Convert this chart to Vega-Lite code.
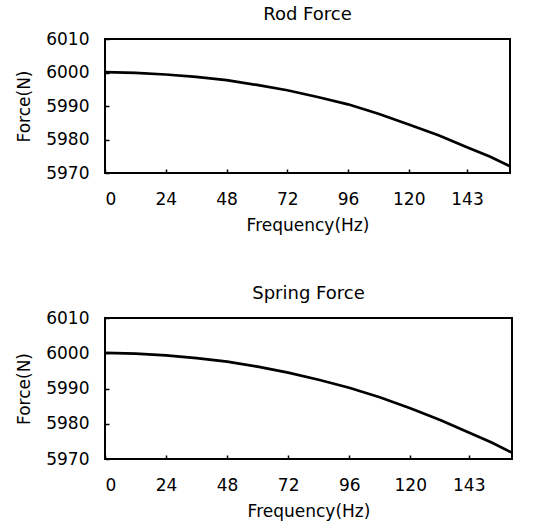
{
  "$schema": "https://vega.github.io/schema/vega-lite/v6.json",
  "background": "white",
  "padding": {"left": 14, "top": 5, "right": 5, "bottom": 5},
  "datasets": {
    "rod": [
      {"f": 0, "force": 6000.1}, {"f": 12, "force": 5999.9}, {"f": 24, "force": 5999.4},
      {"f": 36, "force": 5998.7}, {"f": 48, "force": 5997.7}, {"f": 60, "force": 5996.3},
      {"f": 72, "force": 5994.7}, {"f": 84, "force": 5992.7}, {"f": 96, "force": 5990.5},
      {"f": 108, "force": 5987.7}, {"f": 120, "force": 5984.5}, {"f": 132, "force": 5981.2},
      {"f": 143, "force": 5977.7}, {"f": 152, "force": 5974.9}, {"f": 160, "force": 5972}
    ],
    "spring": [
      {"f": 0, "force": 6000.1}, {"f": 12, "force": 5999.9}, {"f": 24, "force": 5999.4},
      {"f": 36, "force": 5998.6}, {"f": 48, "force": 5997.6}, {"f": 60, "force": 5996.2},
      {"f": 72, "force": 5994.5}, {"f": 84, "force": 5992.5}, {"f": 96, "force": 5990.2},
      {"f": 108, "force": 5987.5}, {"f": 120, "force": 5984.4}, {"f": 132, "force": 5981},
      {"f": 143, "force": 5977.5}, {"f": 152, "force": 5974.7}, {"f": 160, "force": 5971.8}
    ]
  },
  "config": {
    "font": "DejaVu Sans",
    "view": {"stroke": "black", "strokeWidth": 2},
    "concat": {"spacing": 50},
    "title": {"fontSize": 18, "fontWeight": "normal", "color": "black", "offset": 6},
    "axis": {
      "grid": false,
      "domain": false,
      "ticks": true,
      "tickColor": "black",
      "tickWidth": 1.5,
      "tickSize": -4,
      "labelColor": "black",
      "labelFontSize": 17,
      "titleColor": "black",
      "titleFontSize": 17,
      "titleFontWeight": "normal"
    }
  },
  "vconcat": [
    {
      "title": "Rod Force",
      "width": 405,
      "height": 134,
      "data": {"name": "rod"},
      "mark": {"type": "line", "color": "black", "strokeWidth": 2.7},
      "encoding": {
        "x": {"field": "f", "type": "quantitative", "scale": {"domain": [0, 160], "nice": false},
              "axis": {"title": "Frequency(Hz)", "values": [0, 24, 48, 72, 96, 120, 143], "labelPadding": 22, "titlePadding": 10}},
        "y": {"field": "force", "type": "quantitative", "scale": {"domain": [5970, 6010], "nice": false, "zero": false},
              "axis": {"title": "Force(N)", "format": "d", "values": [5970, 5980, 5990, 6000, 6010], "labelPadding": 20, "titlePadding": 12}}
      }
    },
    {
      "title": "Spring Force",
      "width": 407,
      "height": 141,
      "data": {"name": "spring"},
      "mark": {"type": "line", "color": "black", "strokeWidth": 2.7},
      "encoding": {
        "x": {"field": "f", "type": "quantitative", "scale": {"domain": [0, 160], "nice": false},
              "axis": {"title": "Frequency(Hz)", "values": [0, 24, 48, 72, 96, 120, 143], "labelPadding": 22, "titlePadding": 10}},
        "y": {"field": "force", "type": "quantitative", "scale": {"domain": [5970, 6010], "nice": false, "zero": false},
              "axis": {"title": "Force(N)", "format": "d", "values": [5970, 5980, 5990, 6000, 6010], "labelPadding": 20, "titlePadding": 12}}
      }
    }
  ]
}
